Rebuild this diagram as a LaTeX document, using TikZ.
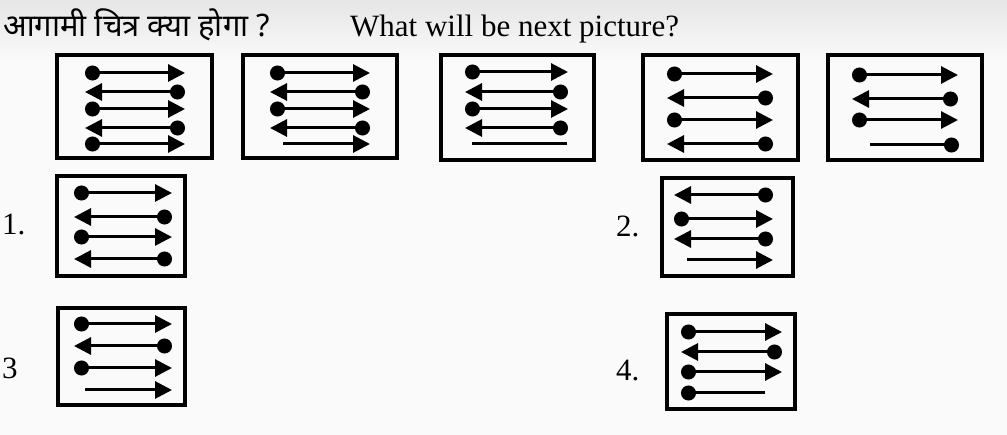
\documentclass[tikz,border=0pt]{standalone}
\usepackage{fontspec}
\setmainfont{Liberation Serif}
\newfontfamily\hindifont[Script=Devanagari]{Noto Sans}
\usetikzlibrary{arrows.meta}

\tikzset{
  frame/.style={line width=3.2pt},
  row/.style={line width=3pt},
  dot/.tip={Circle[length=15pt]},
  head/.tip={Triangle[length=17pt,width=17pt]},
  toright/.style={row, dot-head},
  toleft/.style={row, head-dot},
  label/.style={font=\fontsize{31}{33}\selectfont, inner sep=0pt}
}

\begin{document}
\begin{tikzpicture}[x=1pt, y=-1pt]
	\useasboundingbox (0,0) rectangle (1007,435);
	\fill[black!2] (0,0) rectangle (1007,435);
	\shade[top color=black!10, bottom color=black!2] (0,0) rectangle (1007,60);

	% question
	\node [anchor=base west, inner sep=0pt, font=\hindifont\fontsize{31}{33}\selectfont] (qhi) at (3,37) {आगामी चित्र क्या होगा ?};
	\node [anchor=base west, inner sep=0pt, font=\fontsize{31}{33}\selectfont] (qen) at (350,37) {What will be next picture?};

	% series
	\draw [frame] (57,55) rectangle (212,158);
	\draw [toright] (85,73) -- (185,73);
	\draw [toleft] (85,92) -- (185,92);
	\draw [toright] (85,109) -- (185,109);
	\draw [toleft] (85,128) -- (185,128);
	\draw [toright] (85,144) -- (185,144);

	\draw [frame] (243,55) rectangle (397,158);
	\draw [toright] (270,73) -- (370,73);
	\draw [toleft] (270,92) -- (370,92);
	\draw [toright] (270,109) -- (370,109);
	\draw [toleft] (270,128) -- (370,128);
	\draw [row, -head] (283,144) -- (370,144);

	\draw [frame] (441,55) rectangle (594,160);
	\draw [toright] (465,72) -- (568,72);
	\draw [toleft] (465,92) -- (568,92);
	\draw [toright] (465,109) -- (568,109);
	\draw [toleft] (465,128) -- (568,128);
	\draw [row] (472,144) -- (567,144);

	\draw [frame] (643,55) rectangle (798,160);
	\draw [toright] (667,74) -- (773,74);
	\draw [toleft] (667,98) -- (773,98);
	\draw [toright] (667,120) -- (773,120);
	\draw [toleft] (667,144) -- (773,144);

	\draw [frame] (828,55) rectangle (982,160);
	\draw [toright] (852,75) -- (958,75);
	\draw [toleft] (852,99) -- (958,99);
	\draw [toright] (852,120) -- (958,120);
	\draw [row, -dot] (870,145) -- (959,145);

	% answers
	\node [label, anchor=west] (opt1) at (2,224) {1.};
	\draw [frame] (57,176) rectangle (185,276);
	\draw [toright] (74,193) -- (172,193);
	\draw [toleft] (74,217) -- (172,217);
	\draw [toright] (74,237) -- (172,237);
	\draw [toleft] (74,259) -- (172,259);

	\node [label, anchor=west] (opt2) at (616,226) {2.};
	\draw [frame] (662,178) rectangle (793,276);
	\draw [toleft] (674,195) -- (773,195);
	\draw [toright] (674,219) -- (773,219);
	\draw [toleft] (674,239) -- (773,239);
	\draw [row, -head] (687,260) -- (773,260);

	\node [label, anchor=west] (opt3) at (2,368) {3};
	\draw [frame] (58,308) rectangle (185,405);
	\draw [toright] (74,324) -- (172,324);
	\draw [toleft] (74,346) -- (172,346);
	\draw [toright] (74,368) -- (172,368);
	\draw [row, -head] (85,390) -- (172,390);

	\node [label, anchor=west] (opt4) at (616,371) {4.};
	\draw [frame] (667,314) rectangle (795,409);
	\draw [toright] (681,332) -- (782,332);
	\draw [toleft] (681,352) -- (782,352);
	\draw [toright] (681,372) -- (782,372);
	\draw [row, dot-] (681,393) -- (765,393);
\end{tikzpicture}
\end{document}
